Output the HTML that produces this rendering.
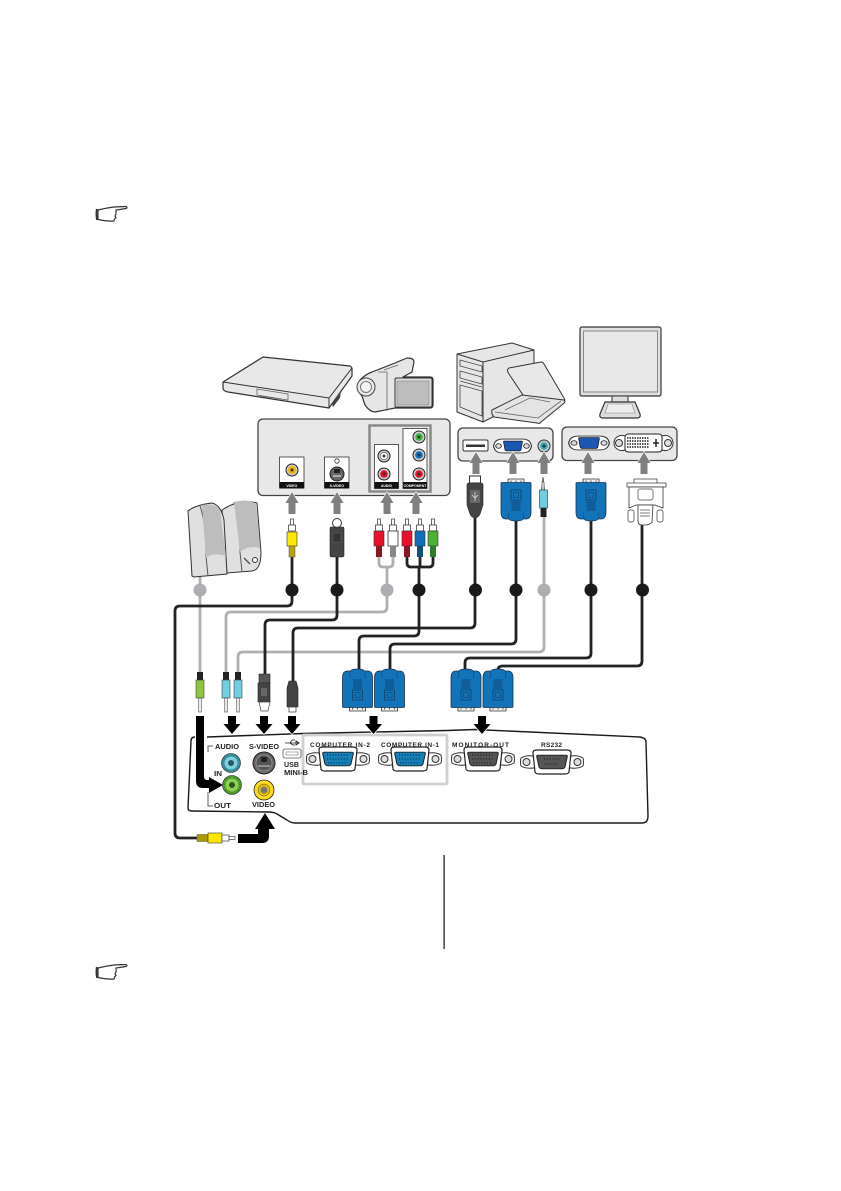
<!DOCTYPE html>
<html><head><meta charset="utf-8"><style>
html,body{margin:0;padding:0;background:#fff;width:841px;height:1191px;overflow:hidden}
svg{display:block}
text{font-family:"Liberation Sans",sans-serif;font-weight:bold;fill:#222}
</style></head><body>
<svg width="841" height="1191" viewBox="0 0 841 1191" xmlns="http://www.w3.org/2000/svg">
<defs>
<g id="hand" fill="#fff" stroke="#333" stroke-width="1.2">
<path d="M2,4 Q10,2 18,1 L30,0.5 Q32,1.5 30,2.5 L20,4 L20,8 L19,10 L20,11.5 L18.500,13 L18,15 Q12,15.500 2,13.500 Z"/>
<path d="M0.800,3 Q0,8 1,14" stroke-width="1.800"/>
</g>
<g id="vga">
<path d="M-8,0H8V5H-8Z" fill="#eee" stroke="#333" stroke-width=".8"/>
<path d="M-15,4Q-15,3.500-14,3.500H14Q15,3.500 15,4.500V33Q15,40 10,40H7Q6,42 0,42Q-6,42-7,40H-10Q-15,40-15,33Z" fill="#1273b8" stroke="#1a3550" stroke-width=".8"/>
<path d="M-5,1.500v2M0,1.500v2M5,1.500v2" stroke="#555" stroke-width="1"/>
<rect x="-5" y="11" width="10" height="10" fill="none" stroke="#0c4a78"/>
<rect x="-2.500" y="13.500" width="5" height="5" fill="none" stroke="#0c4a78" stroke-width=".7"/>
<path d="M-4.500,23h9M-4.500,25h9M-4.500,27h9M-4.500,29h9M-4.500,31h9" stroke="#0c3a60" stroke-width=".8"/>
<path d="M-7.500,33V40M7.500,33V40" stroke="#0c4a78" stroke-width=".6"/>
</g>
<g id="rca">
<rect x="-1.500" y="0" width="3" height="6" fill="#fff" stroke="#444" stroke-width=".8"/>
<rect x="-3.500" y="6" width="7" height="6" fill="#fff" stroke="#444" stroke-width=".8"/>
</g>
<g id="ptvga">
<path d="M-31,-4Q-26,-7-19,-6H19Q26,-7 31,-4Q32,0 31,4Q26,7 19,6H-19Q-26,7-31,4Q-32,0-31,-4Z" fill="#fff" stroke="#333" stroke-width="1"/>
<circle cx="-25.500" cy="0" r="3.500" fill="#ddd" stroke="#333"/><circle cx="25.500" cy="0" r="3.500" fill="#ddd" stroke="#333"/>
<path d="M-18,-11Q-19,-11.500-15,-12H15Q19,-12 19,-9L17,10Q16,12 13,12H-13Q-16,12-17,10L-19,-9Q-19,-11-18,-11Z" fill="#fff" stroke="#222" stroke-width="1.200"/>
</g>
<g id="pchole">
<path d="M-14,-8H14Q16,-8 15,-5L13,6Q12,8 10,8H-10Q-12,8-13,6L-15,-5Q-16,-8-14,-8Z"/>
</g>
<g id="ba" fill="#000" stroke="#fff" stroke-width="1.500" paint-order="stroke"><path d="M-4,0H4V8H8.500L0,18L-8.500,8H-4Z"/></g>
<g id="ga" fill="#808080" stroke="#fff" stroke-width="1.200" paint-order="stroke"><path d="M-3.500,22V11H-6.500L0,0L6.500,11H3.500V22Z"/></g>
<g id="pst">
<path d="M-7,-6Q-12,-6-13,-2Q-14,0-13,2Q-12,6-7,6H7Q12,6 13,2Q14,0 13,-2Q12,-6 7,-6Z" fill="#fff" stroke="#333" stroke-width=".8"/>
<circle cx="-10" cy="0" r="2" fill="#ddd" stroke="#333" stroke-width=".7"/><circle cx="10" cy="0" r="2" fill="#ddd" stroke="#333" stroke-width=".7"/>
</g>
</defs>

<use href="#hand" x="96" y="206"/>
<use href="#hand" x="96" y="964"/>
<rect x="443.500" y="855" width="1.200" height="94" fill="#111"/>

<!-- DVD player -->
<path d="M223,382L263,357L350,366Q352,367 352,369V376L329,408L228,392Q223,391 223,388Z" fill="#e8e8e8" stroke="#333" stroke-width="1.200" stroke-linejoin="round"/>
<path d="M223,382L329,398L352,368M329,398V408" fill="none" stroke="#333" stroke-width="1"/>
<path d="M257,389L288,394V400L257,395ZM260,396L288,400" fill="none" stroke="#666" stroke-width=".8"/>
<path d="M332,404L341,390L340,398L333,407Z" fill="#444"/>

<!-- camcorder -->
<path d="M360,380Q366,374 372,372L395,363L407,358Q414,358 414,362L412,372L403,377H430Q433,377 433,380V405Q433,408 430,408H395L375,412Q370,412 365,405L362,396Q356,390 360,380Z" fill="#e6e6e6" stroke="#333" stroke-width="1.200" stroke-linejoin="round"/>
<circle cx="366" cy="387" r="9" fill="#e8e8e8" stroke="#444"/><circle cx="366" cy="387" r="5.500" fill="#f3f3f3" stroke="#777"/>
<rect x="395" y="378" width="37" height="29" rx="1.500" fill="#ddd" stroke="#333"/>
<rect x="397" y="381" width="32" height="24" fill="#bdbdbd" stroke="#777" stroke-width=".5"/>
<path d="M378,372L387,372V411M384,370L398,365" fill="none" stroke="#666" stroke-width=".8"/>

<!-- tower & laptop -->
<path d="M457,354L512,343L534,350V396L483,422L457,412Z" fill="#e6e6e6" stroke="#333" stroke-width="1" stroke-linejoin="round"/>
<path d="M457,354L483,362L534,350M483,362V422" fill="none" stroke="#333" stroke-width="1"/>
<path d="M460,360L482,366V372L460,366ZM460,371L482,377V384L460,378ZM460,381L482,387M460,385L482,391V416L460,407Z" fill="none" stroke="#444" stroke-width=".8"/>
<path d="M509,368L541,362Q543,362 544,364L564,398Q566,401 563,403L541,417Q538,418 537,416L509,374Q506,370 509,368Z" fill="#e8e8e8" stroke="#333" stroke-width="1"/>
<path d="M492,410L522,395L564,400Q566,402 563,404L541,422Q540,424 537,423L494,417Q491,414 492,410Z" fill="#e4e4e4" stroke="#333" stroke-width="1"/>
<path d="M495,412L538,418L561,401M505,410L530,398L550,402" fill="none" stroke="#666" stroke-width=".8"/>

<!-- monitor -->
<rect x="580" y="327" width="81" height="69" rx="2" fill="#e0e0e0" stroke="#333" stroke-width="1.200"/>
<rect x="583.500" y="331" width="74" height="61" fill="#e8e8e8" stroke="#888" stroke-width="1"/>
<rect x="612" y="396" width="16" height="6" fill="#ddd" stroke="#333"/>
<path d="M605,402H635L640,414Q641,418 637,418H603Q599,418 600,414Z" fill="#ddd" stroke="#333" stroke-width="1.200"/>
<path d="M608,404H632L635,413H605Z" fill="#eee" stroke="#888" stroke-width=".6"/>

<!-- source panel -->
<rect x="258" y="419" width="192" height="76.500" rx="5" fill="#e8e8e8" stroke="#444" stroke-width="1.300"/>
<rect x="369.500" y="425.500" width="61" height="66" fill="none" stroke="#888" stroke-width="2.500"/>
<g fill="#fff" stroke="#333" stroke-width=".8">
<rect x="279.500" y="457" width="24.500" height="31"/><rect x="324.500" y="457" width="24.500" height="31"/>
<rect x="374.500" y="444.500" width="24" height="44"/><rect x="403" y="428.500" width="24" height="60"/></g>
<g fill="#111"><rect x="279.500" y="482" width="24.500" height="6.500"/><rect x="324.500" y="482" width="24.500" height="6.500"/><rect x="374.500" y="482" width="24" height="6.500"/><rect x="403" y="482" width="24" height="6.500"/></g>
<g style="font-size:3.500px"><text x="291.800" y="486.800" text-anchor="middle" style="fill:#fff">VIDEO</text><text x="336.800" y="486.800" text-anchor="middle" style="fill:#fff">S-VIDEO</text><text x="386.500" y="486.800" text-anchor="middle" style="fill:#fff">AUDIO</text><text x="415" y="486.800" text-anchor="middle" style="fill:#fff">COMPONENT</text></g>
<circle cx="292" cy="470" r="6" fill="#ccc" stroke="#222"/><circle cx="292" cy="470" r="4" fill="#f0b400"/><circle cx="292" cy="470" r="1.500" fill="#333"/>
<circle cx="337" cy="474" r="7" fill="#666" stroke="#222"/><rect x="334" y="469" width="6" height="4" fill="#222"/><path d="M333,476h8" stroke="#eee" stroke-width="1"/>
<circle cx="337" cy="461" r="2.200" fill="none" stroke="#333" stroke-width=".8"/>
<circle cx="384" cy="456" r="6" fill="#ccc" stroke="#222"/><circle cx="384" cy="456" r="3.800" fill="#f4f4f4" stroke="#555" stroke-width=".6"/><circle cx="384" cy="456" r="1.400" fill="#333"/>
<circle cx="384" cy="474" r="6" fill="#ccc" stroke="#222"/><circle cx="384" cy="474" r="3.800" fill="#e60f2a"/><circle cx="384" cy="474" r="1.400" fill="#333"/>
<circle cx="419" cy="437" r="6" fill="#ccc" stroke="#222"/><circle cx="419" cy="437" r="3.800" fill="#3cb034"/><circle cx="419" cy="437" r="1.400" fill="#333"/>
<circle cx="419" cy="455" r="6" fill="#ccc" stroke="#222"/><circle cx="419" cy="455" r="3.800" fill="#0f6fb8"/><circle cx="419" cy="455" r="1.400" fill="#333"/>
<circle cx="419" cy="474" r="6" fill="#ccc" stroke="#222"/><circle cx="419" cy="474" r="3.800" fill="#e60f2a"/><circle cx="419" cy="474" r="1.400" fill="#333"/>

<!-- PC panel -->
<rect x="458" y="428" width="95" height="33" rx="5" fill="#e8e8e8" stroke="#444" stroke-width="1.300"/>
<rect x="463" y="440" width="25" height="11" rx="1.500" fill="#fff" stroke="#333"/><rect x="466" y="444.500" width="19" height="2.500" fill="#333"/>
<use href="#pst" transform="translate(512.500,446) scale(1.400,1.150)"/>
<use href="#pchole" transform="translate(513,446) scale(.62,.62)" fill="#1b56b0" stroke="#111"/>
<circle cx="544" cy="446" r="6" fill="#ccc" stroke="#333"/><circle cx="544" cy="446" r="3.800" fill="#34aab8"/><circle cx="544" cy="446" r="1.500" fill="#333"/>

<!-- Monitor panel -->
<rect x="562" y="427" width="115" height="33.500" rx="5" fill="#e8e8e8" stroke="#444" stroke-width="1.300"/>
<use href="#pst" transform="translate(589,443) scale(1.500,1.150)"/>
<use href="#pchole" transform="translate(589,443) scale(.68,.68)" fill="#1b56b0" stroke="#111"/>
<path d="M625,436Q619,434 615,439Q613,443 615,447Q619,452 625,450H662Q668,452 672,447Q674,443 672,439Q668,434 662,436Z" fill="#fff" stroke="#333"/>
<circle cx="619" cy="443" r="3.500" fill="#ddd" stroke="#333"/><circle cx="668" cy="443" r="3.500" fill="#ddd" stroke="#333"/>
<rect x="625" y="434" width="37" height="18" rx="3" fill="#fff" stroke="#222"/>
<path d="M627,438H649M627,441H649M627,444H649M627,447H649" stroke="#222" stroke-width="1.400" stroke-dasharray="1.500 1"/>
<path d="M653,443H659M656,439V447" stroke="#222" stroke-width="1.500"/>

<!-- gray arrows -->
<use href="#ga" x="292" y="492"/><use href="#ga" x="337" y="492"/><use href="#ga" x="387" y="492"/><use href="#ga" x="416" y="492"/>
<use href="#ga" x="476" y="452"/><use href="#ga" x="513" y="452"/><use href="#ga" x="544" y="452"/><use href="#ga" x="588" y="452"/><use href="#ga" x="644" y="452"/>

<!-- speakers -->
<path d="M222,510Q240,498 257,503L261,552Q261,570 252,571L227,573Z" fill="#e0e0e0" stroke="#333" stroke-width="1"/>
<path d="M234,502Q240,518 240,552L242,572" fill="none" stroke="#555"/>
<path d="M234,502Q252,498 256,505L260,548Q248,545 240,552Z" fill="#bdbdbd"/>
<path d="M188,511Q195,505 212,503Q221,505 224,520L227,574L194,577L192,576Z" fill="#e0e0e0" stroke="#333" stroke-width="1"/>
<path d="M200,506Q206,522 206,556L208,576" fill="none" stroke="#555"/>
<path d="M202,505Q216,503 220,510L226,556Q212,552 206,558Z" fill="#bdbdbd"/>
<circle cx="255" cy="560" r="2.500" fill="#fff" stroke="#333"/>
<path d="M244,558l6,6" stroke="#555" stroke-width="1.500"/>

<!-- cables -->
<g fill="none" stroke-linejoin="round" stroke-linecap="butt">
<g stroke="#b0b0b0" stroke-width="2.800">
<path d="M200,577V672"/>
<path d="M387,567V607Q387,612 382,612H231Q226,612 226,617V672"/>
<path d="M544,517V647Q544,652 539,652H243Q238,652 238,657V672"/>
<path d="M379,557V563Q379,567 383,567H389Q393,567 393,563V557"/>
</g>
<g stroke="#222" stroke-width="2.800">
<path d="M292,555V601Q292,606 287,606H180Q175,606 175,611V833Q175,838 180,838H197"/>
<path d="M337,557V615Q337,620 332,620H270Q265,620 265,625V674"/>
<path d="M475,518V623Q475,628 470,628H298Q293,628 293,633V681"/>
<path d="M419,567V631Q419,636 414,636H364Q359,636 359,641V670"/>
<path d="M516,521V639Q516,644 511,644H395Q390,644 390,649V670"/>
<path d="M591,521V653Q591,658 586,658H470Q465,658 465,663V670"/>
<path d="M642,525V661Q642,666 637,666H503Q498,666 498,670"/>
<path d="M407,557V563Q407,567 411,567H429Q433,567 433,563V557M420,557V567"/>
</g>
</g>
<g fill="#aeaeb2"><circle cx="200" cy="590" r="6.500"/><circle cx="387" cy="590" r="6.500"/><circle cx="544" cy="590" r="6.500"/></g>
<g fill="#1a1a1a"><circle cx="292" cy="590" r="6.500"/><circle cx="337" cy="590" r="6.500"/><circle cx="419" cy="590" r="6.500"/><circle cx="475.500" cy="590" r="6.500"/><circle cx="516" cy="590" r="6.500"/><circle cx="591" cy="590" r="6.500"/><circle cx="642.500" cy="590" r="6.500"/></g>

<!-- upper RCA plugs -->
<use href="#rca" x="292" y="519"/><rect x="287" y="532" width="10" height="14" fill="#ffe800" stroke="#333" stroke-width=".6"/><rect x="289" y="546" width="6" height="11" fill="#b8a400" stroke="#555" stroke-width=".5"/>
<use href="#rca" x="379" y="519"/><rect x="374" y="531" width="10" height="15" fill="#e8102a" stroke="#333" stroke-width=".6"/><rect x="376" y="546" width="6" height="11" fill="#8c1622"/>
<use href="#rca" x="393" y="519"/><rect x="388" y="531" width="10" height="15" fill="#fff" stroke="#333" stroke-width=".8"/><rect x="390" y="546" width="6" height="11" fill="#888"/>
<use href="#rca" x="407" y="519"/><rect x="402" y="531" width="10" height="15" fill="#e8102a" stroke="#333" stroke-width=".6"/><rect x="404" y="546" width="6" height="11" fill="#8c1622"/>
<use href="#rca" x="420" y="519"/><rect x="415" y="531" width="10" height="15" fill="#0f6fb8" stroke="#333" stroke-width=".6"/><rect x="417" y="546" width="6" height="11" fill="#10507e"/>
<use href="#rca" x="433" y="519"/><rect x="428" y="531" width="10" height="15" fill="#4cb034" stroke="#333" stroke-width=".6"/><rect x="430" y="546" width="6" height="11" fill="#2f7a2a"/>

<!-- S-video upper -->
<circle cx="337" cy="523" r="4.500" fill="#fff" stroke="#333"/>
<path d="M331,527H343Q344,527 344,529V555Q344,557 342,557H332Q330,557 330,555V529Q330,527 331,527Z" fill="#444" stroke="#222" stroke-width=".6"/>
<rect x="333" y="533" width="8" height="9" fill="#333" stroke="#666" stroke-width=".5"/>

<!-- USB upper -->
<rect x="469.500" y="476" width="11" height="7" fill="#fff" stroke="#333"/>
<path d="M467,485Q467,483 469,483H481Q483,483 483,485V505L480,514Q478,518 475,518Q472,518 470,514L467,505Z" fill="#444" stroke="#222" stroke-width=".6"/>
<rect x="470" y="490" width="10" height="13" rx="1" fill="#666"/>
<path d="M475,492V501M472,495L475,498L478,495" stroke="#ddd" fill="none" stroke-width=".8"/>

<!-- audio jack upper -->
<path d="M543,477L541.500,490H544.500Z" fill="#fff" stroke="#333" stroke-width=".7"/>
<rect x="542" y="482" width="2" height="8" fill="#fff" stroke="#333" stroke-width=".6"/>
<rect x="539.500" y="490" width="8" height="18" fill="#6fcfe0" stroke="#333" stroke-width=".6"/>
<rect x="540.500" y="508" width="6" height="9" fill="#222"/>

<!-- VGA upper -->
<use href="#vga" transform="translate(516,479)"/>
<use href="#vga" transform="translate(591,479)"/>

<!-- DVI upper -->
<rect x="634" y="479" width="23" height="5" fill="#fff" stroke="#333" stroke-width=".7"/>
<rect x="627" y="483" width="39" height="4" fill="#fff" stroke="#333" stroke-width=".7"/>
<path d="M629,487H663V508L655,505H636L629,508Z" fill="#fff" stroke="#333" stroke-width=".8"/>
<rect x="638" y="489" width="15" height="11" rx="2" fill="#fff" stroke="#444" stroke-width=".7"/>
<rect x="628" y="510" width="6" height="12" rx="2" fill="#fff" stroke="#333" stroke-width=".7"/>
<rect x="657" y="510" width="6" height="12" rx="2" fill="#fff" stroke="#333" stroke-width=".7"/>
<path d="M638,505H653L652,522Q650,525 645,525H642Q638,525 638,521Z" fill="#fff" stroke="#333" stroke-width=".8"/>
<path d="M640,510h10M640,513h10M640,516h10" stroke="#555" stroke-width=".7"/>

<!-- lower plugs -->
<rect x="197" y="672" width="6" height="8" fill="#222"/>
<rect x="196" y="680" width="8" height="18" fill="#8fc63e" stroke="#444" stroke-width=".6"/>
<rect x="198.800" y="698" width="2.400" height="14" fill="#fff" stroke="#333" stroke-width=".6"/>
<rect x="223" y="672" width="6" height="8" fill="#222"/>
<rect x="222" y="680" width="8" height="18" fill="#6fcfe0" stroke="#444" stroke-width=".6"/>
<rect x="224.800" y="698" width="2.400" height="14" fill="#fff" stroke="#333" stroke-width=".6"/>
<rect x="235" y="672" width="6" height="8" fill="#222"/>
<rect x="234" y="680" width="8" height="18" fill="#6fcfe0" stroke="#444" stroke-width=".6"/>
<rect x="236.800" y="698" width="2.400" height="14" fill="#fff" stroke="#333" stroke-width=".6"/>
<path d="M259,674H270V683H259Z" fill="#555" stroke="#222" stroke-width=".6"/>
<path d="M258,683H270V702H258Z" fill="#444" stroke="#222" stroke-width=".6"/>
<rect x="261" y="688" width="6" height="8" fill="#666"/>
<path d="M259,702H270L268,711H261Z" fill="#fff" stroke="#444" stroke-width=".7"/>
<path d="M289,681H296L298,688V707H287V688Z" fill="#444" stroke="#222" stroke-width=".6"/>
<rect x="289" y="707" width="7" height="5" fill="#fff" stroke="#333" stroke-width=".7"/>
<use href="#vga" transform="translate(357.500,711) scale(1,-1)"/>
<use href="#vga" transform="translate(389.500,711) scale(1,-1)"/>
<use href="#vga" transform="translate(466,711) scale(1,-1)"/>
<use href="#vga" transform="translate(498,711) scale(1,-1)"/>

<!-- projector outline -->
<path d="M207,737L303,733.500M447,730.500L475,729.500L640,737Q646,738 646,742L648,816Q648,823 642,823H295Q291,823 287,820L277,814Q274,812 268,812L192,811Q188,811 188,808L191,741Q191,737 195,737" fill="none" stroke="#1a1a1a" stroke-width="1.400"/>
<path d="M303,733.500L447,730.500" stroke="#1a1a1a" stroke-width="1.400" fill="none"/>
<rect x="303" y="735" width="144" height="49" rx="1" fill="#fff" stroke="#d0d0d0" stroke-width="2.800"/>

<!-- black arrows -->
<use href="#ba" x="232" y="716"/><use href="#ba" x="264" y="716"/><use href="#ba" x="292" y="716"/><use href="#ba" x="373.500" y="716"/><use href="#ba" x="482" y="716"/>
<path d="M196,716H204V776Q204,780 207,780H209V777L223,785L209,793V788H203Q196,788 196,781Z" fill="#000"/>
<path d="M238,834H258V829H255L265,813L275,829H269V836Q269,843 262,843H238Z" fill="#000"/>

<!-- yellow plug horizontal -->
<rect x="197" y="834.500" width="11" height="7" fill="#a89a00" stroke="#555" stroke-width=".5"/>
<rect x="208" y="833" width="14" height="10" fill="#ffe800" stroke="#333" stroke-width=".6"/>
<rect x="222" y="835" width="7" height="6" fill="#fff" stroke="#444" stroke-width=".7"/>
<rect x="229" y="836.500" width="6" height="3" fill="#fff" stroke="#444" stroke-width=".7"/>

<!-- projector ports -->
<circle cx="231" cy="763" r="9.500" fill="#3a8c9a" stroke="#222" stroke-width=".6"/><circle cx="231" cy="763" r="6.500" fill="#7ed0de"/><circle cx="231" cy="763" r="3" fill="#2a5560"/>
<circle cx="232" cy="785" r="9.500" fill="#4c9a2a" stroke="#222" stroke-width=".6"/><circle cx="232" cy="785" r="6.500" fill="#8fd050"/><circle cx="232" cy="785" r="3" fill="#2a5a20"/>
<circle cx="264" cy="763" r="11" fill="#666" stroke="#222"/><circle cx="264" cy="763" r="8" fill="#555" stroke="#aaa" stroke-width=".6"/><rect x="261" y="757" width="6" height="5" fill="#222"/><path d="M258,766h12" stroke="#ccc" stroke-width="1"/>
<circle cx="264" cy="790" r="10" fill="#ffd820" stroke="#222" stroke-width=".8"/><circle cx="264" cy="790" r="6" fill="#e8c000" stroke="#444" stroke-width=".5"/><circle cx="264" cy="790" r="3.500" fill="#777"/>
<path d="M213,746H208V752M208,792V806H213" fill="none" stroke="#333" stroke-width=".8"/>
<rect x="283" y="749" width="18" height="9" rx="2" fill="#fff" stroke="#555" stroke-width=".8"/><rect x="286" y="752" width="12" height="3" fill="none" stroke="#777" stroke-width=".6"/>
<path d="M285,743H299M299,743l-3,-2v4zM290,743l2,-3h3M290,743l3,2h2" fill="none" stroke="#222" stroke-width=".8"/>

<g>
<text x="215" y="749" textLength="24" lengthAdjust="spacingAndGlyphs" style="font-size:7px">AUDIO</text>
<text x="249" y="749" textLength="30" lengthAdjust="spacingAndGlyphs" style="font-size:7px">S-VIDEO</text>
<text x="284" y="767" textLength="15" lengthAdjust="spacingAndGlyphs" style="font-size:7px">USB</text>
<text x="284" y="775" textLength="24" lengthAdjust="spacingAndGlyphs" style="font-size:7px">MINI-B</text>
<text x="214" y="776" textLength="8" lengthAdjust="spacingAndGlyphs" style="font-size:7px">IN</text>
<text x="214" y="808" textLength="17" lengthAdjust="spacingAndGlyphs" style="font-size:7px">OUT</text>
<text x="252" y="807" textLength="23" lengthAdjust="spacingAndGlyphs" style="font-size:7px">VIDEO</text>
<text x="310" y="747" textLength="60" lengthAdjust="spacing" style="font-size:6.500px">COMPUTER IN-2</text>
<text x="381" y="747" textLength="58" lengthAdjust="spacing" style="font-size:6.500px">COMPUTER IN-1</text>
<text x="452" y="747" textLength="57" lengthAdjust="spacing" style="font-size:6.500px">MONITOR-OUT</text>
<text x="541" y="747" textLength="21" lengthAdjust="spacing" style="font-size:6.500px">RS232</text>
</g>
<use href="#ptvga" x="338" y="759"/><use href="#pchole" transform="translate(338,759) scale(1,.85)" fill="#1580b8" stroke="#222"/>
<use href="#ptvga" x="410" y="759"/><use href="#pchole" transform="translate(410,759) scale(1,.85)" fill="#1580b8" stroke="#222"/>
<use href="#ptvga" x="483" y="759"/><use href="#pchole" transform="translate(483,759) scale(1,.85)" fill="#555" stroke="#222"/>
<use href="#ptvga" x="552" y="762"/><use href="#pchole" transform="translate(552,762) scale(1,.85)" fill="#555" stroke="#222"/>
<g stroke="#0a3550" stroke-width="1.200" stroke-dasharray="1 1.800" fill="none"><path d="M327,755h22M327,759h22M328,763h20M399,755h22M399,759h22M400,763h20"/></g>
<g stroke="#222" stroke-width="1.200" stroke-dasharray="1 1.800" fill="none"><path d="M472,755h22M472,759h22M473,763h20M544,759h16M545,764h14"/></g>
</svg>
</body></html>
